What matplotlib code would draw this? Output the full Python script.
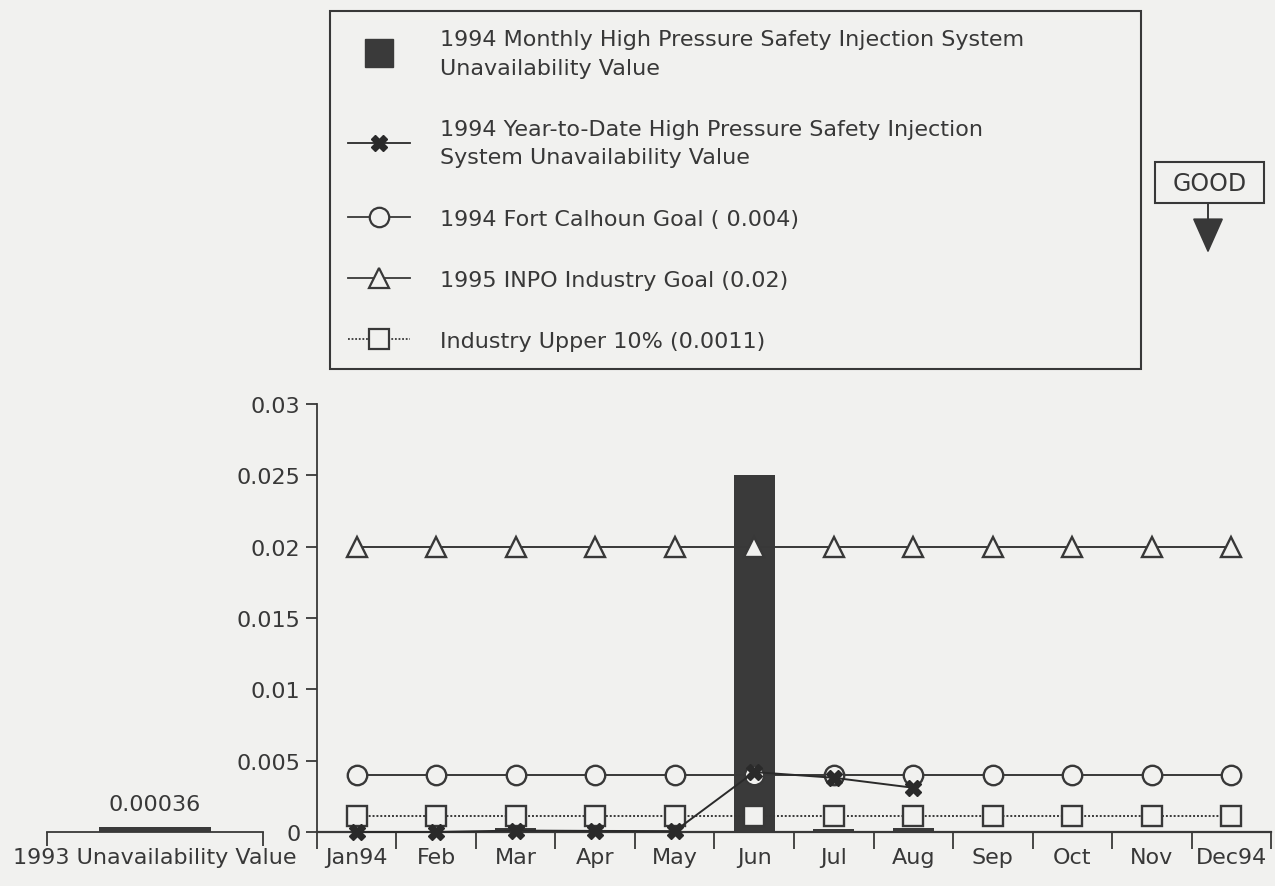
import numpy as np
import matplotlib
matplotlib.use("Agg")
import matplotlib.pyplot as plt
from matplotlib.lines import Line2D
from matplotlib.patches import Rectangle, FancyArrowPatch

# data
months = ['Jan94', 'Feb', 'Mar', 'Apr', 'May', 'Jun',
          'Jul', 'Aug', 'Sep', 'Oct', 'Nov', 'Dec94']
monthly = [0.0, 0.0, 0.0003, 0.0, 0.0, 0.025, 0.0002, 0.0003]   # Jan-Aug
ytd = [0.0, 0.0, 0.0001, 0.000075, 0.00006, 0.0042, 0.0038, 0.0031]
fcs_goal = [0.004] * 12
inpo_goal = [0.02] * 12
upper10 = [0.0011] * 12
value_1993 = 0.00036
label_1993 = '0.00036'

yticks = [0, 0.005, 0.01, 0.015, 0.02, 0.025, 0.03]
ytick_labels = ['0', '0.005', '0.01', '0.015', '0.02', '0.025', '0.03']

legend_labels = [
    '1994 Monthly High Pressure Safety Injection System\nUnavailability Value',
    '1994 Year-to-Date High Pressure Safety Injection\nSystem Unavailability Value',
    '1994 Fort Calhoun Goal ( 0.004)',
    '1995 INPO Industry Goal (0.02)',
    'Industry Upper 10% (0.0011)',
]

bg = '#f1f1ef'
ink = '#383838'
bar_color = '#3a3a3a'

plt.rcParams['font.family'] = ['DejaVu Sans']
plt.rcParams['text.color'] = ink
plt.rcParams['axes.edgecolor'] = ink
plt.rcParams['xtick.color'] = ink
plt.rcParams['ytick.color'] = ink

fig = plt.figure(figsize=(12.75, 8.87), dpi=100, facecolor=bg)
ax = fig.add_axes([0.2486, 0.0609, 0.7483, 0.4825])
ax0 = fig.add_axes([0.0369, 0.0609, 0.1694, 0.4825])

x = np.arange(len(months))
ax.bar(x[:len(monthly)], monthly, width=0.52, color=bar_color, zorder=2)

mk = dict(ms=14, mfc=bg, mec=ink, mew=1.7, color=ink, lw=1.4, zorder=3,
          clip_on=False)
ax.plot(x, inpo_goal, marker='^', **mk)
ax.plot(x, fcs_goal, marker='o', **mk)
ax.plot(x, upper10, marker='s', ls=(0, (1, 1)), **mk)
ax.plot(x[:len(ytd)], ytd, marker='X', ms=11, color='#2a2a2a', lw=1.4,
        zorder=4, clip_on=False)

ax.set_xlim(-0.5, 11.5)
ax.set_ylim(0, 0.03)
ax.set_yticks(yticks)
ax.set_yticklabels(ytick_labels, fontsize=16)
ax.set_xticks(x)
ax.set_xticklabels(months, fontsize=16)
ax.set_xticks(np.arange(-0.5, 12, 1), minor=True)
ax.tick_params(axis='x', which='major', length=0, pad=11)
ax.tick_params(axis='x', which='minor', length=12, width=1.3, direction='out')
ax.tick_params(axis='y', length=8, width=1.3, pad=4)
for s in ['top', 'right']:
    ax.spines[s].set_visible(False)
ax.spines['left'].set_bounds(0, 0.03)
ax.spines['left'].set_linewidth(1.3)
ax.spines['bottom'].set_linewidth(1.6)
ax.patch.set_alpha(0)

# 1993 value panel
ax0.bar([0.5], [value_1993], width=0.52, color=bar_color)
ax0.text(0.5, value_1993 + 0.0009, label_1993, ha='center', va='bottom',
         fontsize=16)
ax0.set_xlim(0, 1)
ax0.set_ylim(0, 0.03)
ax0.set_yticks([])
ax0.set_xticks([0.5])
ax0.set_xticklabels(['1993 Unavailability Value'], fontsize=16)
ax0.set_xticks([0, 1], minor=True)
ax0.tick_params(axis='x', which='major', length=0, pad=11)
ax0.tick_params(axis='x', which='minor', length=10, width=1.3)
for s in ['top', 'right', 'left']:
    ax0.spines[s].set_visible(False)
ax0.spines['bottom'].set_linewidth(1.3)
ax0.patch.set_alpha(0)

# legend
handles = [
    Line2D([], [], ls='none', marker='s', ms=20, color=bar_color),
    Line2D([], [], color='#2a2a2a', marker='X', ms=11, lw=1.3),
    Line2D([], [], color=ink, marker='o', ms=14, mfc=bg, mec=ink, mew=1.6, lw=1.3),
    Line2D([], [], color=ink, marker='^', ms=14, mfc=bg, mec=ink, mew=1.6, lw=1.3),
    Line2D([], [], color=ink, marker='s', ms=14, mfc=bg, mec=ink, mew=1.6, lw=1.3,
           ls=(0, (1, 1))),
]
leg = fig.legend(handles, legend_labels, loc='upper left',
                 bbox_to_anchor=(330 / 1275, 1 - 372 / 887, 811 / 1275, 360 / 887),
                 mode='expand', ncol=1, fontsize=16, fancybox=False,
                 edgecolor=ink, facecolor=bg, framealpha=1, borderpad=0.8,
                 handlelength=2.8, handletextpad=1.35, labelspacing=1.85,
                 borderaxespad=0)
leg.get_frame().set_linewidth(1.5)
for t in leg.get_texts():
    t.set_linespacing(1.55)

# GOOD indicator
fig.add_artist(Rectangle((1155 / 1275, 1 - 204 / 887), 109 / 1275, 41 / 887,
                         transform=fig.transFigure, fc=bg, ec=ink, lw=1.5))
fig.text(1209.5 / 1275, 1 - 184 / 887, 'GOOD', ha='center', va='center',
         fontsize=17)
fig.add_artist(FancyArrowPatch((1208 / 1275, 1 - 204 / 887),
                               (1208 / 1275, 1 - 254 / 887),
                               transform=fig.transFigure,
                               arrowstyle='-|>,head_length=0.9,head_width=0.4',
                               mutation_scale=25, color=ink, lw=1.4,
                               shrinkA=0, shrinkB=0))

fig.savefig('out.png', dpi=100, facecolor=bg)
